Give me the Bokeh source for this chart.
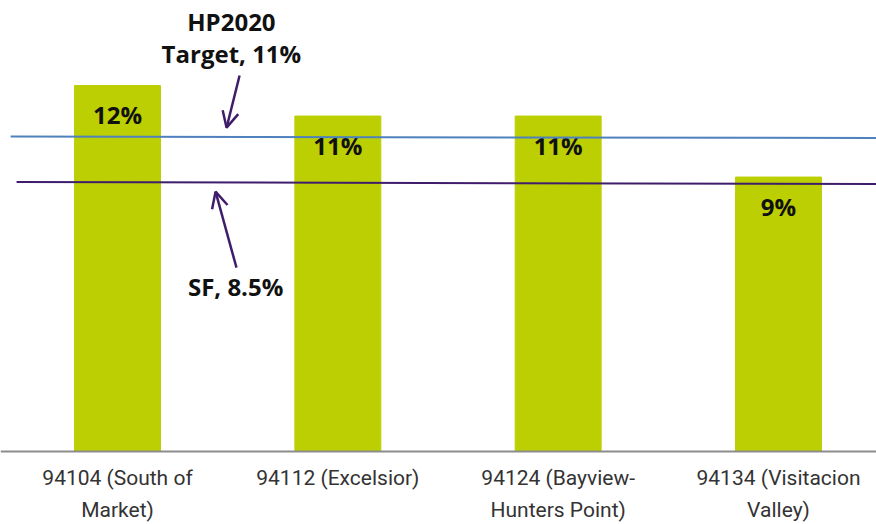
from bokeh.plotting import figure
from bokeh.models import ColumnDataSource, Range1d, Arrow, OpenHead, Label, Span
from bokeh.embed import file_html
from bokeh.resources import INLINE
from bokeh.core.properties import value

# ---- data ----
categories = ["94104 (South of\nMarket)", "94112 (Excelsior)", "94124 (Bayview-\nHunters Point)", "94134 (Visitacion\nValley)"]
rates = [12.0, 11.0, 11.0, 9.0]
bar_labels = ["12%", "11%", "11%", "9%"]

# reference lines (as drawn, slightly sloped)
target_x = [-0.485, 3.445]
target_y = [10.33, 10.28]
sf_x = [-0.458, 3.445]
sf_y = [8.84, 8.77]

target_text = ["HP2020", "Target, 11%"]
sf_text = "SF, 8.5%"

xs = list(range(len(categories)))
src = ColumnDataSource(dict(x=xs, top=rates, label=bar_labels))
cat_src = ColumnDataSource(dict(x=xs, y=[-0.46] * len(xs), label=categories))

p = figure(width=876, height=524, output_backend="svg", toolbar_location=None,
           x_range=Range1d(-0.531, 3.4447), y_range=Range1d(-2.393, 14.79),
           min_border_left=0, min_border_right=0, min_border_top=0, min_border_bottom=0)
p.outline_line_color = None
p.xgrid.visible = False
p.ygrid.visible = False
p.xaxis.visible = False
p.yaxis.visible = False

p.vbar(x="x", top="top", width=0.39, bottom=0, source=src, color="#bccf02")

# baseline (category axis line)
p.add_layout(Span(location=0, dimension="width", line_color="#8c8c8c", line_width=2))

p.text(x="x", y="top", text="label", source=src, text_align="center", text_baseline="middle",
       y_offset=29, text_font=value("Open Sans"), text_font_style="bold", text_font_size="24px",
       text_color="#111111")

# category labels
p.text(x="x", y="y", text="label", source=cat_src, text_align="center", text_baseline="top",
       text_font=value("Roboto"), text_font_size="21px", text_color="#333333",
       text_line_height=1.35)

p.line(target_x, target_y, line_color="#4f81bd", line_width=2)
p.line(sf_x, sf_y, line_color="#3f1d6b", line_width=2)

purple = "#3f1d6b"
p.add_layout(Arrow(x_start=0.554, y_start=12.33, x_end=0.495, y_end=10.62,
                   line_color=purple, line_width=2.5,
                   end=OpenHead(size=16, line_color=purple, line_width=2.5)))
p.add_layout(Arrow(x_start=0.540, y_start=6.03, x_end=0.445, y_end=8.52,
                   line_color=purple, line_width=2.5,
                   end=OpenHead(size=16, line_color=purple, line_width=2.5)))

for txt, yy in zip(target_text, [14.1, 13.05]):
    p.add_layout(Label(x=0.517, y=yy, text=txt, text_align="center", text_baseline="middle",
                       text_font="Open Sans", text_font_style="bold", text_font_size="24px",
                       text_color="#111111"))
p.add_layout(Label(x=0.536, y=5.41, text=sf_text, text_align="center", text_baseline="middle",
                   text_font="Open Sans", text_font_style="bold", text_font_size="24px",
                   text_color="#111111"))

open("out.html", "w").write(file_html(p, INLINE))
